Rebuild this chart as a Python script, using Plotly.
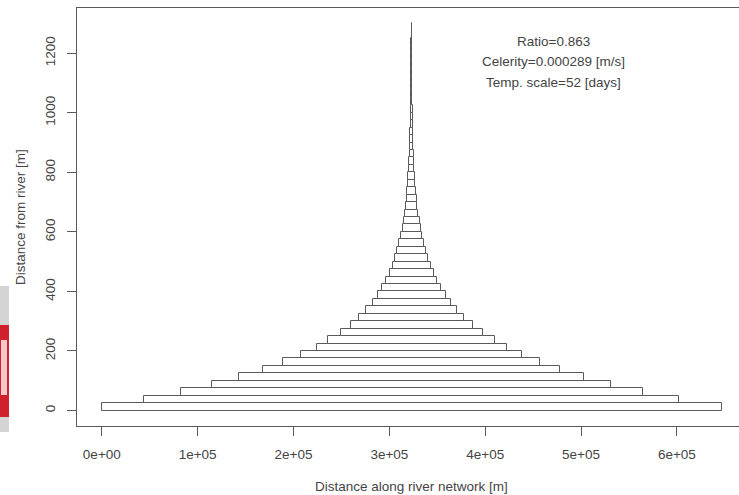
import plotly.graph_objects as go

# Distance-from-river bins (lower edge, m) and bin height
bin_lower = [25 * k for k in range(52)]
bin_height = 25

# Width of each band along the river network [m], read bottom to top
band_width = [
    646600, 558000, 482000, 416000, 360000, 310000, 268000, 231000, 198000, 174000,
    148000, 127000, 110000, 95000, 81000, 71000, 62000, 53000, 46000, 40000,
    34000, 30000, 26000, 22000, 19000, 16500, 14000, 12000, 10500, 9000,
    7800, 6700, 5800, 5000, 4300, 3700, 3200, 2800, 2400, 2100,
    1800, 1500, 1300, 1100, 970, 840, 720, 620, 540, 460,
    400, 350,
]
band_center = 323300

x_tickvals = [0, 100000, 200000, 300000, 400000, 500000, 600000]
x_ticktext = ["0e+00", "1e+05", "2e+05", "3e+05", "4e+05", "5e+05", "6e+05"]
y_tickvals = [0, 200, 400, 600, 800, 1000, 1200]

info_lines = ["Ratio=0.863", "Celerity=0.000289 [m/s]", "Temp. scale=52 [days]"]

W, H = 739, 495
L, R, T, B = 77, 0, 8, 69
FONT = "Liberation Sans, Arial, sans-serif"
FS = 13.5
INK = "#444444"
LINE = "#5a5a5a"

fig = go.Figure()
fig.add_trace(go.Bar(
    orientation="h",
    y=[b + bin_height / 2 for b in bin_lower],
    x=band_width,
    base=[band_center - w / 2 for w in band_width],
    width=bin_height,
    marker=dict(color="white", line=dict(color=LINE, width=1)),
    hoverinfo="skip",
))

def px_x(p):
    return (p - L) / (W - L - R)

def px_y(p):
    return 1 - (p - T) / (H - T - B)

annotations = []
for i, t in enumerate(info_lines):
    annotations.append(dict(
        x=px_x(553), y=px_y(41 + 20.5 * i), xref="paper", yref="paper",
        text=t, showarrow=False, xanchor="center", yanchor="middle",
        font=dict(family=FONT, size=FS, color=INK),
    ))
annotations.append(dict(
    x=px_x(412), y=px_y(487), xref="paper", yref="paper",
    text="Distance along river network [m]", showarrow=False,
    xanchor="center", yanchor="middle",
    font=dict(family=FONT, size=FS, color=INK),
))
annotations.append(dict(
    x=px_x(20), y=px_y(217), xref="paper", yref="paper",
    text="Distance from river [m]", showarrow=False, textangle=-90,
    xanchor="center", yanchor="middle",
    font=dict(family=FONT, size=FS, color=INK),
))

# Side tab at the left edge of the page
shapes = [
    dict(type="rect", xref="paper", yref="paper",
         x0=px_x(0), x1=px_x(9), y0=px_y(432), y1=px_y(286),
         fillcolor="#d4d4d4", line=dict(width=0), layer="above"),
    dict(type="rect", xref="paper", yref="paper",
         x0=px_x(0), x1=px_x(9), y0=px_y(417), y1=px_y(325),
         fillcolor="#d0202c", line=dict(width=0), layer="above"),
    dict(type="rect", xref="paper", yref="paper",
         x0=px_x(1), x1=px_x(7), y0=px_y(395), y1=px_y(340),
         fillcolor="#f2c8cc", line=dict(width=0), layer="above"),
]

fig.update_layout(
    width=W, height=H,
    margin=dict(l=L, r=R, t=T, b=B, pad=0),
    paper_bgcolor="white", plot_bgcolor="white",
    showlegend=False,
    bargap=0,
    annotations=annotations,
    shapes=shapes,
    font=dict(family=FONT, size=FS, color=INK),
    xaxis=dict(
        range=[-25900, 664800], showgrid=False, zeroline=False,
        showline=True, mirror=True, linecolor=LINE, linewidth=1,
        tickmode="array", tickvals=x_tickvals, ticktext=x_ticktext,
        ticks="outside", ticklen=9, tickcolor=LINE, tickwidth=1,
        ticklabelstandoff=7,
        tickfont=dict(family=FONT, size=FS, color=INK),
    ),
    yaxis=dict(
        range=[-52, 1352], showgrid=False, zeroline=False,
        showline=True, mirror=False, linecolor=LINE, linewidth=1,
        tickmode="array", tickvals=y_tickvals,
        ticks="outside", ticklen=9, tickcolor=LINE, tickwidth=1,
        tickangle=-90, ticklabelstandoff=7,
        tickfont=dict(family=FONT, size=FS, color=INK),
    ),
)

fig.write_html("out.html")
